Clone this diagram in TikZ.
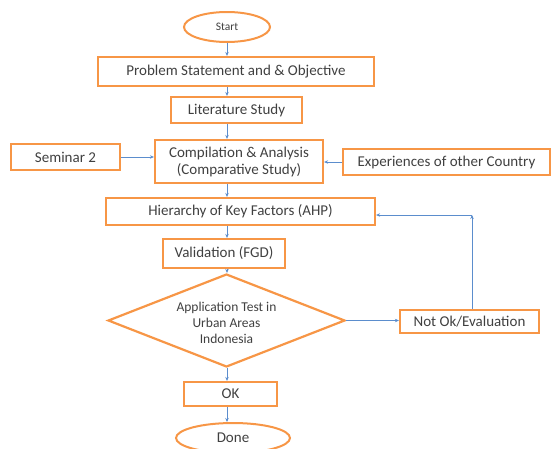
\documentclass[tikz,border=0pt]{standalone}
\usepackage{fontspec}
\setmainfont{Carlito}
\usetikzlibrary{shapes.geometric,arrows.meta}
\definecolor{boxorange}{RGB}{247,150,70}
\definecolor{arrowblue}{RGB}{91,141,205}
\definecolor{textgray}{RGB}{64,64,64}
\begin{document}
\begin{tikzpicture}[x=1pt,y=-1pt,text=textgray,
  box/.style={rectangle,draw=boxorange,line width=2.2pt,inner sep=0pt,align=center,font=\fontsize{15}{17}\selectfont},
  oval/.style={ellipse,draw=boxorange,line width=2pt,inner sep=0pt},
  arr/.style={draw=arrowblue,line width=0.8pt,-{Stealth[length=4pt,width=3.5pt]}}]
\useasboundingbox (0,0) rectangle (552,448);
\node[oval,minimum width=86pt,minimum height=30pt,font=\fontsize{11.5}{14}\selectfont] (start) at (227,27) {Start};
\node[box,minimum width=276pt,minimum height=29pt] (prob) at (236,71.5) {Problem Statement and \& Objective};
\node[box,minimum width=131pt,minimum height=26pt] (lit) at (236.5,110) {Literature Study};
\node[box,minimum width=168pt,minimum height=43pt] (comp) at (239,161.5) {Compilation \& Analysis\\(Comparative Study)};
\node[box,minimum width=109pt,minimum height=26pt] (sem) at (65.5,157) {Seminar 2};
\node[box,minimum width=207pt,minimum height=26pt] (exp) at (446.5,162) {Experiences of other Country};
\node[box,minimum width=269pt,minimum height=27pt] (hier) at (240.5,211.5) {Hierarchy of Key Factors (AHP)};
\node[box,minimum width=122pt,minimum height=29pt] (val) at (224,253.5) {Validation (FGD)};
\node[diamond,draw=boxorange,line width=2.2pt,inner sep=0pt,minimum width=237pt,minimum height=93pt,
  label={[align=center,font=\fontsize{13.5}{16}\selectfont,yshift=-2pt]center:Application Test in\\Urban Areas\\Indonesia}] (test) at (226.5,320.5) {};
\node[box,minimum width=139pt,minimum height=23pt] (notok) at (469.5,321.5) {Not Ok/Evaluation};
\node[box,minimum width=93pt,minimum height=24pt] (ok) at (230.5,394) {OK};
\node[oval,minimum width=114pt,minimum height=30pt,font=\fontsize{15}{17}\selectfont] (done) at (233,438) {Done};
\coordinate (turn) at (472,215);
\draw[arr]  (start) -- (start.south |- prob.north);
\draw[arr]  (start.south |- prob.south) -- (start.south |- lit.north);
\draw[arr]  (start.south |- lit.south) -- (start.south |- comp.north);
\draw[arr]  (start.south |- comp.south) -- (start.south |- hier.north);
\draw[arr]  (start.south |- hier.south) -- (start.south |- val.north);
\draw[arr]  (start.south |- val.south) -- (start.south |- test.north);
\draw[arr]  (start.south |- test.south) -- (start.south |- ok.north);
\draw[arr]  (start.south |- ok.south) -- (start.south |- done.north);
\draw[arr]  (sem.east) -- (sem.east -| comp.west);
\draw[arr]  (exp.west) -- (exp.west -| comp.east);
\draw[arr]  (test.east) -- (test.east -| notok.west);
\draw[arr]  (turn |- notok.north) -- (turn);
\draw[arr]  (turn) -- (turn -| hier.east);
\end{tikzpicture}
\end{document}
